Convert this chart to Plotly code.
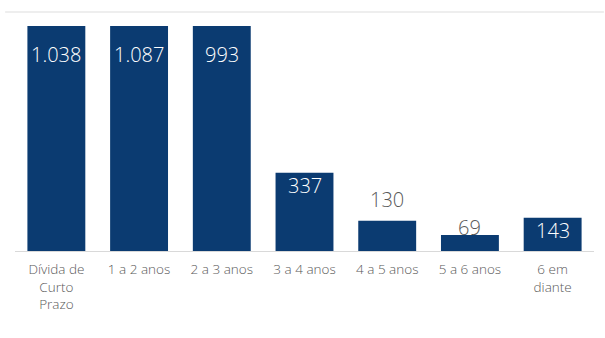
import plotly.graph_objects as go

categories = ["Dívida de<br>Curto<br>Prazo", "1 a 2 anos", "2 a 3 anos", "3 a 4 anos",
              "4 a 5 anos", "5 a 6 anos", "6 em<br>diante"]
values = [1038, 1087, 993, 337, 130, 69, 143]
label_inside = [True, True, True, True, False, False, True]

YMAX = 970
BAR_COLOR = "#0B3B71"
TEXT_GRAY = "#595959"
FONT = "Open Sans"

fig = go.Figure()
fig.add_trace(go.Bar(
    x=categories, y=values, marker=dict(color=BAR_COLOR, line=dict(width=0)),
    hoverinfo="skip",
))

def fmt(v):
    return f"{v:,}".replace(",", ".")

for c, v, inside in zip(categories, values, label_inside):
    shown = min(v, YMAX)
    if inside:
        shift = -28 if v > YMAX else -13
        color = "white"
    else:
        shift = 21 if v >= 100 else 7
        color = TEXT_GRAY
    fig.add_annotation(x=c, y=shown, text=fmt(v), showarrow=False, yanchor="middle",
                       yshift=shift, font=dict(family=FONT, size=20, color=color, weight=300))

fig.add_shape(type="line", xref="paper", yref="paper", x0=-0.017, x1=1.017, y0=1.062, y1=1.062,
              line=dict(color="#eeeeee", width=2))

fig.update_layout(
    width=605, height=338,
    margin=dict(l=15, r=11, t=26, b=87),
    paper_bgcolor="white", plot_bgcolor="white",
    bargap=0.3, showlegend=False,
    font=dict(family=FONT, color=TEXT_GRAY),
    xaxis=dict(showline=True, linecolor="#d9d9d9", linewidth=1, ticks="",
               ticklabelstandoff=6,
               tickfont=dict(size=13.5, color=TEXT_GRAY, family=FONT, weight=300), showgrid=False),
    yaxis=dict(range=[0, YMAX], visible=False, showgrid=False, zeroline=False),
)

fig.write_html("out.html")
